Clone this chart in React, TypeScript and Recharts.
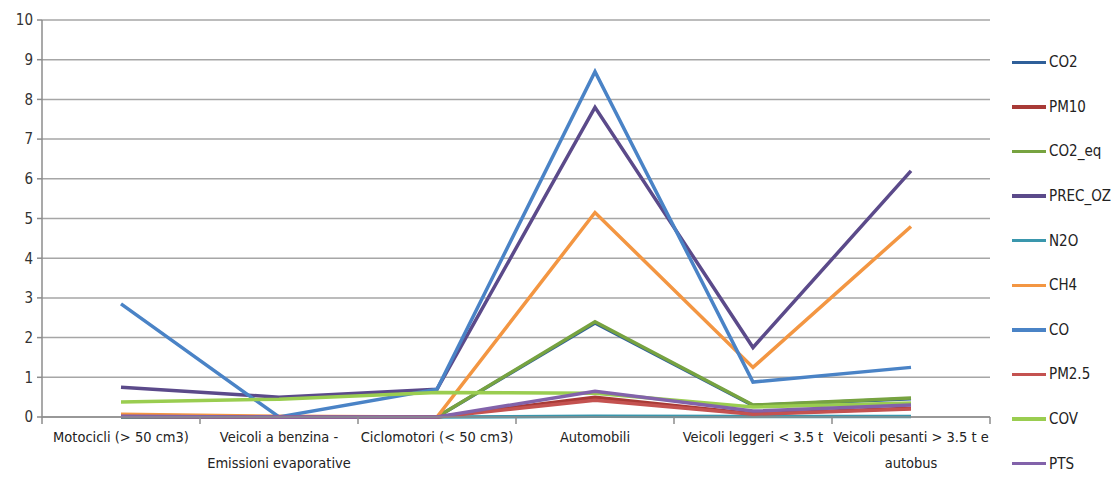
import { LineChart, Line, XAxis, YAxis, CartesianGrid } from 'recharts'

const categories = [
  'Motocicli (> 50 cm3)',
  'Veicoli a benzina - Emissioni evaporative',
  'Ciclomotori (< 50 cm3)',
  'Automobili',
  'Veicoli leggeri < 3.5 t',
  'Veicoli pesanti > 3.5 t e autobus',
]

const co2 = [0, 0, 0, 2.37, 0.29, 0.46]
const pm10 = [0.01, 0, 0, 0.5, 0.08, 0.22]
const co2Eq = [0, 0, 0, 2.4, 0.3, 0.48]
const precOz = [0.75, 0.5, 0.7, 7.8, 1.75, 6.2]
const n2o = [0, 0, 0, 0.02, 0.01, 0.01]
const ch4 = [0.07, 0.02, 0, 5.15, 1.25, 4.8]
const co = [2.85, 0, 0.7, 8.7, 0.88, 1.25]
const pm25 = [0.01, 0, 0, 0.42, 0.07, 0.2]
const cov = [0.38, 0.45, 0.62, 0.6, 0.25, 0.35]
const pts = [0.02, 0, 0, 0.65, 0.15, 0.3]

const yTicks = [0, 1, 2, 3, 4, 5, 6, 7, 8, 9, 10]

const series = [
  { key: 'CO2', values: co2, color: '#2f5f99' },
  { key: 'PM10', values: pm10, color: '#a83a36' },
  { key: 'CO2_eq', values: co2Eq, color: '#77a340' },
  { key: 'PREC_OZ', values: precOz, color: '#5b4a8a' },
  { key: 'N2O', values: n2o, color: '#3a97ad' },
  { key: 'CH4', values: ch4, color: '#f39642' },
  { key: 'CO', values: co, color: '#4a83c6' },
  { key: 'PM2.5', values: pm25, color: '#c45250' },
  { key: 'COV', values: cov, color: '#9acd50' },
  { key: 'PTS', values: pts, color: '#8262aa' },
]

const data = categories.map((name, i) => {
  const row: Record<string, string | number> = { name }
  series.forEach(s => { row[s.key] = s.values[i] })
  return row
})

const W = 1111
const H = 497
const PLOT_LEFT = 42
const PLOT_RIGHT = 990
const BAND = (PLOT_RIGHT - PLOT_LEFT) / categories.length
const FONT = '"Liberation Sans Narrow", "DejaVu Sans Condensed", sans-serif'

// greedy word wrap for the long category names
function wrap(text: string, max = 25) {
  const lines: string[] = []
  let cur = ''
  text.split(' ').forEach(w => {
    const next = cur ? cur + ' ' + w : w
    if (next.length > max && cur) {
      lines.push(cur)
      cur = w
    } else cur = next
  })
  if (cur) lines.push(cur)
  return lines
}

// category label plus tick marks on the band edges
function CategoryTick(props: any) {
  const { x, y, payload, index } = props
  const lines = wrap(String(payload.value))
  const last = index === categories.length - 1
  return (
    <g>
      <line x1={x - BAND / 2} x2={x - BAND / 2} y1={y} y2={y + 7} stroke="#8c8c8c" strokeWidth={1.5} />
      {last && (
        <line x1={x + BAND / 2} x2={x + BAND / 2} y1={y} y2={y + 7} stroke="#8c8c8c" strokeWidth={1.5} />
      )}
      {lines.map((l, i) => (
        <text key={i} x={x} y={y + 25 + i * 26} textAnchor="middle" fontSize={14.5} fill="#222" fontFamily={FONT}>
          {l}
        </text>
      ))}
    </g>
  )
}

export default function App() {
  return (
    <div style={{ position: 'absolute', left: 0, top: 0, width: W, height: H, background: '#fff' }}>
      <LineChart width={W} height={H} data={data} margin={{ top: 20, right: W - PLOT_RIGHT, left: 0, bottom: 0 }}>
        <CartesianGrid vertical={false} stroke="#a6a6a6" strokeWidth={1.5} />
        <XAxis
          dataKey="name"
          interval={0}
          height={80}
          padding={{ left: BAND / 2, right: BAND / 2 }}
          axisLine={{ stroke: '#8c8c8c', strokeWidth: 1.5 }}
          tickLine={false}
          tickSize={0}
          tickMargin={0}
          tick={<CategoryTick />}
        />
        <YAxis
          width={PLOT_LEFT}
          domain={[0, 10]}
          ticks={yTicks}
          interval={0}
          tickSize={5}
          tickMargin={4}
          axisLine={{ stroke: '#8c8c8c', strokeWidth: 1.5 }}
          tickLine={{ stroke: '#8c8c8c', strokeWidth: 1.5 }}
          tick={{ fontSize: 15, fill: '#333', fontFamily: FONT }}
        />
        {series.map(s => (
          <Line
            key={s.key}
            dataKey={s.key}
            stroke={s.color}
            strokeWidth={3.5}
            dot={false}
            activeDot={false}
            isAnimationActive={false}
          />
        ))}
      </LineChart>
      <div style={{ position: 'absolute', left: 1012, top: 40, fontFamily: FONT, fontSize: 15, color: '#222' }}>
        {series.map(s => (
          <div key={s.key} style={{ height: 44.6, display: 'flex', alignItems: 'center' }}>
            <div style={{ width: 34, height: 3.5, background: s.color, marginRight: 3 }} />
            <span>{s.key}</span>
          </div>
        ))}
      </div>
    </div>
  )
}
